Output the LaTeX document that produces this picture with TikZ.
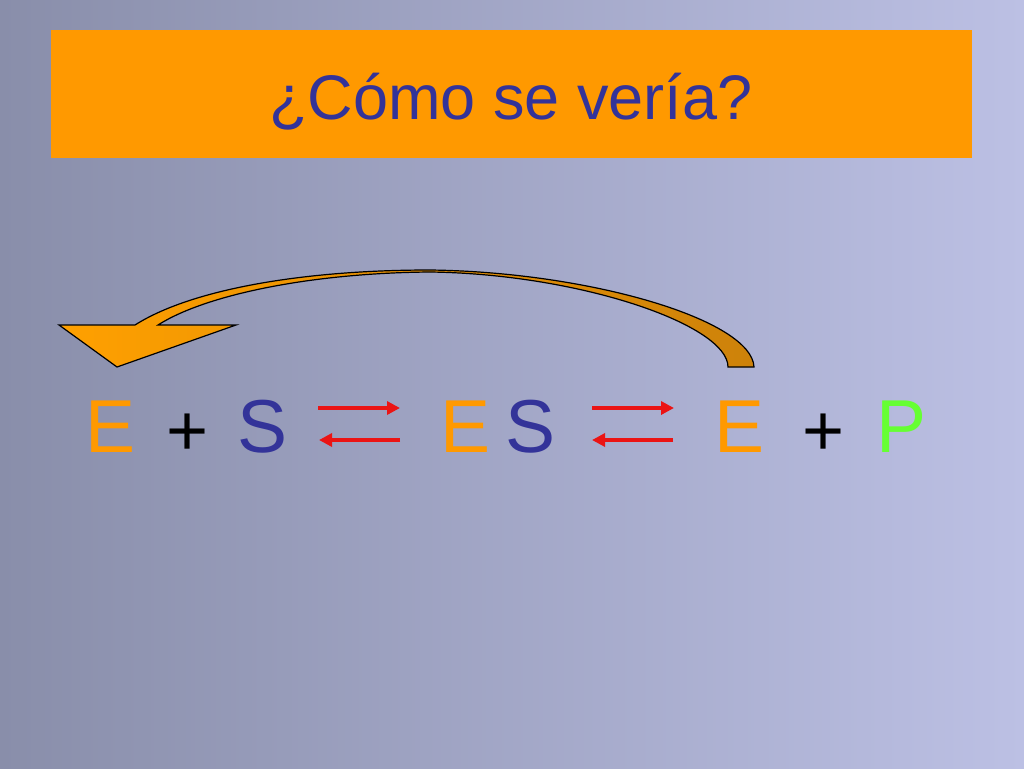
\documentclass[tikz,border=0pt]{standalone}
\usepackage{fontspec}
\setmainfont{Liberation Sans}
\usetikzlibrary{arrows.meta}
\definecolor{bgleft}{RGB}{137,142,170}
\definecolor{bgright}{RGB}{188,192,228}
\definecolor{titleorange}{RGB}{255,153,0}
\definecolor{titleblue}{RGB}{51,51,153}
\definecolor{eorange}{RGB}{255,153,0}
\definecolor{pgreen}{RGB}{102,255,51}
\definecolor{redarrow}{RGB}{235,20,20}
\definecolor{arrowlight}{RGB}{255,160,0}
\definecolor{arrowdark}{RGB}{205,130,10}
\tikzset{
  eqtext/.style={anchor=base, inner sep=0pt, font=\fontsize{75}{80}\selectfont},
  plustext/.style={anchor=base, inner sep=0pt, text=black, font=\fontsize{72}{78}\selectfont},
  eqarrow/.style={draw=redarrow, line width=4.5pt, -{Triangle[length=13pt,width=13pt]}},
}
\begin{document}
\begin{tikzpicture}[x=1pt,y=-1pt]
\useasboundingbox (0,0) rectangle (1024,768);
\shade[left color=bgleft, right color=bgright] (0,0) rectangle (1024,768);
% title
\fill[titleorange] (51,30) rectangle (972,158);
\node[anchor=base, inner sep=0pt, text=titleblue, font=\fontsize{63}{70}\selectfont] (title) at (511,119) {¿Cómo se vería?};
% curved block arrow
\shade[left color=arrowlight, right color=arrowdark, draw=black, line width=1.2pt, line join=miter]
  (59,325) -- (135,325)
  .. controls (190,290) and (300,270) .. (430,270)
  .. controls (590,272) and (752,320) .. (754,367)
  -- (728,367)
  .. controls (728,325) and (580,274) .. (430,272)
  .. controls (310,273) and (205,295) .. (158,325)
  -- (236,325) -- (117,367) -- cycle;
% equation
\node[eqtext, text=eorange] (e1) at (111,452) {E};
\node[plustext] (plus1) at (188,455) {+};
\node[eqtext, text=titleblue] (s1) at (263,452) {S};
\node[eqtext, text=eorange] (e2) at (466,452) {E};
\node[eqtext, text=titleblue] (s2) at (531,452) {S};
\node[eqtext, text=eorange] (e3) at (739,452) {E};
\node[plustext] (plus2) at (824,455) {+};
\node[eqtext, text=pgreen] (p) at (901,452) {P};
% equilibrium arrows
\coordinate (a1l) at (318,408); \coordinate (a1r) at (400,408);
\coordinate (b1l) at (319,440); \coordinate (b1r) at (400,440);
\coordinate (a2l) at (592,408); \coordinate (a2r) at (674,408);
\coordinate (b2l) at (592,440); \coordinate (b2r) at (673,440);
\draw[eqarrow] (a1l) -- (a1r);
\draw[eqarrow] (b1r) -- (b1l);
\draw[eqarrow] (a2l) -- (a2r);
\draw[eqarrow] (b2r) -- (b2l);
\end{tikzpicture}
\end{document}
